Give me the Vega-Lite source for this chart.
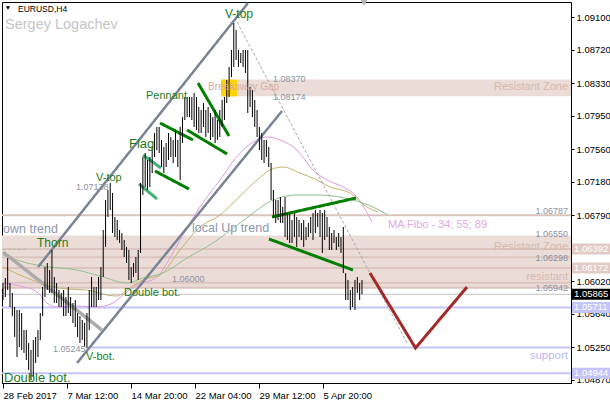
{
"$schema": "https://vega.github.io/schema/vega-lite/v6.json",
"width": 569, "height": 381,
"autosize": {"type": "none"},
"padding": {"left": 2, "top": 2, "right": 39, "bottom": 17},
"background": "#ffffff",
"config": {"view": {"stroke": "#000000", "strokeWidth": 1}, "font": "Liberation Sans"},
"datasets": {
"bars": [
{"i":0,"p":1.05997,"p2":1.05798},{"i":1,"p":1.06055,"p2":1.05833},{"i":2,"p":1.06288,"p2":1.05915},{"i":3,"p":1.05997,"p2":1.05717},{"i":4,"p":1.0588,"p2":1.0561},{"i":5,"p":1.05717,"p2":1.05367},{"i":6,"p":1.05682,"p2":1.05133},{"i":7,"p":1.05682,"p2":1.0525},{"i":8,"p":1.05647,"p2":1.05215},{"i":9,"p":1.05448,"p2":1.0518},
{"i":10,"p":1.05448,"p2":1.05098},{"i":11,"p":1.05297,"p2":1.04982},{"i":12,"p":1.05215,"p2":1.04865},{"i":13,"p":1.05332,"p2":1.049},{"i":14,"p":1.05367,"p2":1.05063},{"i":15,"p":1.05448,"p2":1.05133},{"i":16,"p":1.05647,"p2":1.05332},{"i":17,"p":1.0595,"p2":1.0561},{"i":18,"p":1.06183,"p2":1.05833},{"i":19,"p":1.0623,"p2":1.05915},
{"i":20,"p":1.06148,"p2":1.0588},{"i":21,"p":1.06382,"p2":1.0588},{"i":22,"p":1.06067,"p2":1.05763},{"i":23,"p":1.05997,"p2":1.05763},{"i":24,"p":1.05915,"p2":1.05717},{"i":25,"p":1.0588,"p2":1.05717},{"i":26,"p":1.05915,"p2":1.0561},{"i":27,"p":1.05833,"p2":1.0561},{"i":28,"p":1.0595,"p2":1.05647},{"i":29,"p":1.05833,"p2":1.0561},
{"i":30,"p":1.05763,"p2":1.0553},{"i":31,"p":1.05798,"p2":1.05483},{"i":32,"p":1.05647,"p2":1.05367},{"i":33,"p":1.0561,"p2":1.05297},{"i":34,"p":1.05565,"p2":1.05332},{"i":35,"p":1.0553,"p2":1.0525},{"i":36,"p":1.05647,"p2":1.05238},{"i":37,"p":1.05915,"p2":1.05448},{"i":38,"p":1.06067,"p2":1.05717},{"i":39,"p":1.0595,"p2":1.05717},
{"i":40,"p":1.0595,"p2":1.05717},{"i":41,"p":1.06067,"p2":1.05798},{"i":42,"p":1.06183,"p2":1.05798},{"i":43,"p":1.06615,"p2":1.06067},{"i":44,"p":1.06965,"p2":1.06417},{"i":45,"p":1.07082,"p2":1.06767},{"i":46,"p":1.07163,"p2":1.06848},{"i":47,"p":1.07047,"p2":1.0658},{"i":48,"p":1.06767,"p2":1.06533},{"i":49,"p":1.06732,"p2":1.06498},
{"i":50,"p":1.06615,"p2":1.06463},{"i":51,"p":1.0658,"p2":1.06382},{"i":52,"p":1.06498,"p2":1.063},{"i":53,"p":1.06417,"p2":1.0623},{"i":54,"p":1.06382,"p2":1.06032},{"i":55,"p":1.06183,"p2":1.05997},{"i":56,"p":1.0623,"p2":1.06067},{"i":57,"p":1.063,"p2":1.06113},{"i":58,"p":1.06382,"p2":1.06032},{"i":59,"p":1.07163,"p2":1.06347},
{"i":60,"p":1.07467,"p2":1.07023},{"i":61,"p":1.07513,"p2":1.07117},{"i":62,"p":1.07432,"p2":1.07082},{"i":63,"p":1.07467,"p2":1.07117},{"i":64,"p":1.07583,"p2":1.0728},{"i":65,"p":1.07747,"p2":1.07467},{"i":66,"p":1.07817,"p2":1.07548},{"i":67,"p":1.07817,"p2":1.07513},{"i":68,"p":1.07665,"p2":1.0735},{"i":69,"p":1.07583,"p2":1.0728},
{"i":70,"p":1.0763,"p2":1.0735},{"i":71,"p":1.07747,"p2":1.07432},{"i":72,"p":1.077,"p2":1.07467},{"i":73,"p":1.07665,"p2":1.07397},{"i":74,"p":1.07782,"p2":1.07467},{"i":75,"p":1.07665,"p2":1.0735},{"i":76,"p":1.07817,"p2":1.07198},{"i":77,"p":1.07933,"p2":1.0763},{"i":78,"p":1.08167,"p2":1.07898},{"i":79,"p":1.08167,"p2":1.07933},
{"i":80,"p":1.08167,"p2":1.07933},{"i":81,"p":1.08167,"p2":1.07898},{"i":82,"p":1.08213,"p2":1.07817},{"i":83,"p":1.08167,"p2":1.07782},{"i":84,"p":1.0805,"p2":1.07747},{"i":85,"p":1.08015,"p2":1.07747},{"i":86,"p":1.08097,"p2":1.07817},{"i":87,"p":1.08015,"p2":1.077},{"i":88,"p":1.0805,"p2":1.07747},{"i":89,"p":1.0798,"p2":1.07665},
{"i":90,"p":1.07933,"p2":1.077},{"i":91,"p":1.08015,"p2":1.0763},{"i":92,"p":1.07898,"p2":1.07665},{"i":93,"p":1.08015,"p2":1.077},{"i":94,"p":1.08132,"p2":1.07817},{"i":95,"p":1.08167,"p2":1.07898},{"i":96,"p":1.08365,"p2":1.08097},{"i":97,"p":1.08517,"p2":1.08167},{"i":98,"p":1.08715,"p2":1.084},{"i":99,"p":1.0903,"p2":1.08517},
{"i":100,"p":1.08948,"p2":1.08598},{"i":101,"p":1.08715,"p2":1.08517},{"i":102,"p":1.0868,"p2":1.08563},{"i":103,"p":1.08715,"p2":1.08517},{"i":104,"p":1.08715,"p2":1.08447},{"i":105,"p":1.08715,"p2":1.0798},{"i":106,"p":1.08283,"p2":1.0805},{"i":107,"p":1.08248,"p2":1.07933},{"i":108,"p":1.08132,"p2":1.07817},{"i":109,"p":1.08015,"p2":1.077},
{"i":110,"p":1.07817,"p2":1.07548},{"i":111,"p":1.07747,"p2":1.07432},{"i":112,"p":1.07665,"p2":1.07397},{"i":113,"p":1.07665,"p2":1.07467},{"i":114,"p":1.07583,"p2":1.0735},{"i":115,"p":1.07397,"p2":1.06965},{"i":116,"p":1.07082,"p2":1.06755},{"i":117,"p":1.06965,"p2":1.06697},{"i":118,"p":1.06965,"p2":1.06732},{"i":119,"p":1.07,"p2":1.06697},
{"i":120,"p":1.06883,"p2":1.06697},{"i":121,"p":1.07,"p2":1.06533},{"i":122,"p":1.06813,"p2":1.06498},{"i":123,"p":1.06813,"p2":1.06463},{"i":124,"p":1.06732,"p2":1.06463},{"i":125,"p":1.06813,"p2":1.06533},{"i":126,"p":1.06767,"p2":1.06417},{"i":127,"p":1.06732,"p2":1.06533},{"i":128,"p":1.06697,"p2":1.06498},{"i":129,"p":1.06732,"p2":1.06417},
{"i":130,"p":1.0665,"p2":1.06498},{"i":131,"p":1.06697,"p2":1.06533},{"i":132,"p":1.06767,"p2":1.0658},{"i":133,"p":1.06813,"p2":1.06498},{"i":134,"p":1.06848,"p2":1.0658},{"i":135,"p":1.06813,"p2":1.0665},{"i":136,"p":1.06848,"p2":1.06533},{"i":137,"p":1.06813,"p2":1.06347},{"i":138,"p":1.06848,"p2":1.06498},{"i":139,"p":1.06767,"p2":1.06533},
{"i":140,"p":1.0665,"p2":1.06382},{"i":141,"p":1.0658,"p2":1.06382},{"i":142,"p":1.06615,"p2":1.06463},{"i":143,"p":1.06533,"p2":1.06382},{"i":144,"p":1.0658,"p2":1.06417},{"i":145,"p":1.06533,"p2":1.06347},{"i":146,"p":1.0665,"p2":1.06113},{"i":147,"p":1.06113,"p2":1.05798},{"i":148,"p":1.06032,"p2":1.05798},{"i":149,"p":1.05915,"p2":1.05682},
{"i":150,"p":1.0595,"p2":1.05717},{"i":151,"p":1.06032,"p2":1.05682},{"i":152,"p":1.06067,"p2":1.0588},{"i":153,"p":1.05997,"p2":1.05798},{"i":154,"p":1.06032,"p2":1.05865}
],
"ma": [
{"ma":"34","i":0,"p":1.05997},{"ma":"34","i":7.29,"p":1.05962},{"ma":"34","i":14.59,"p":1.05892},{"ma":"34","i":18.88,"p":1.05763},{"ma":"34","i":23.17,"p":1.05717},{"ma":"34","i":31.75,"p":1.05728},{"ma":"34","i":40.33,"p":1.05717},{"ma":"34","i":47.19,"p":1.05763},{"ma":"34","i":51.48,"p":1.05857},{"ma":"34","i":57.49,"p":1.05973},{"ma":"34","i":66.07,"p":1.06067},{"ma":"34","i":70.36,"p":1.0623},{"ma":"34","i":75.93,"p":1.06498},{"ma":"34","i":84.51,"p":1.06883},{"ma":"34","i":93.09,"p":1.07198},{"ma":"34","i":101.67,"p":1.07513},{"ma":"34","i":108.97,"p":1.07665},{"ma":"34","i":113.26,"p":1.077},{"ma":"34","i":118.83,"p":1.07665},{"ma":"34","i":126.13,"p":1.07548},{"ma":"34","i":132.99,"p":1.07315},{"ma":"34","i":139.0,"p":1.07198},{"ma":"34","i":145.86,"p":1.07117},{"ma":"34","i":151.87,"p":1.07},{"ma":"34","i":158.3,"p":1.06708},
{"ma":"55","i":0,"p":1.06183},{"ma":"55","i":7.29,"p":1.0609},{"ma":"55","i":20.16,"p":1.05962},{"ma":"55","i":27.46,"p":1.05927},{"ma":"55","i":36.04,"p":1.05915},{"ma":"55","i":44.62,"p":1.05857},{"ma":"55","i":48.91,"p":1.05845},{"ma":"55","i":53.2,"p":1.05915},{"ma":"55","i":60.06,"p":1.06032},{"ma":"55","i":67.35,"p":1.0609},{"ma":"55","i":75.93,"p":1.06382},{"ma":"55","i":84.51,"p":1.0665},{"ma":"55","i":93.09,"p":1.0679},{"ma":"55","i":98.67,"p":1.0693},{"ma":"55","i":108.97,"p":1.07198},{"ma":"55","i":114.54,"p":1.07315},{"ma":"55","i":120.12,"p":1.0735},{"ma":"55","i":127.41,"p":1.0728},{"ma":"55","i":134.71,"p":1.07198},{"ma":"55","i":140.28,"p":1.07117},{"ma":"55","i":148.86,"p":1.07047},{"ma":"55","i":156.16,"p":1.06883},{"ma":"55","i":160.88,"p":1.06825},
{"ma":"89","i":0,"p":1.06323},{"ma":"89","i":10.3,"p":1.0623},{"ma":"89","i":20.16,"p":1.06183},{"ma":"89","i":31.75,"p":1.06148},{"ma":"89","i":41.61,"p":1.06078},{"ma":"89","i":53.2,"p":1.05997},{"ma":"89","i":60.06,"p":1.06055},{"ma":"89","i":68.64,"p":1.06113},{"ma":"89","i":78.94,"p":1.06288},{"ma":"89","i":90.09,"p":1.06463},{"ma":"89","i":101.67,"p":1.06697},{"ma":"89","i":107.25,"p":1.06813},{"ma":"89","i":115.83,"p":1.06965},{"ma":"89","i":126.13,"p":1.07023},{"ma":"89","i":135.99,"p":1.07023},{"ma":"89","i":150.15,"p":1.06965},{"ma":"89","i":158.73,"p":1.06883},{"ma":"89","i":165.16,"p":1.0679}
],
"segs": [
{"id":"up1","kind":"channel","i":15.02,"p":1.06183},{"id":"up1","kind":"channel","i":105.1,"p":1.09263},
{"id":"up2","kind":"channel","i":31.75,"p":1.05063},{"id":"up2","kind":"channel","i":119.69,"p":1.08003},
{"id":"dn","kind":"downtrend","i":0,"p":1.06358},{"id":"dn","kind":"downtrend","i":42.47,"p":1.05448},
{"id":"gd","kind":"guide","i":100.39,"p":1.09042},{"id":"gd","kind":"guide","i":173.32,"p":1.05297},
{"id":"f1","kind":"flaglight","i":60.06,"p":1.0749},{"id":"f1","kind":"flaglight","i":67.78,"p":1.07338},
{"id":"f2","kind":"flaglight","i":58.34,"p":1.07152},{"id":"f2","kind":"flaglight","i":66.07,"p":1.06977},
{"id":"f3","kind":"green","i":67.35,"p":1.07863},{"id":"f3","kind":"green","i":81.51,"p":1.07665},
{"id":"f4","kind":"green","i":65.21,"p":1.07303},{"id":"f4","kind":"green","i":79.79,"p":1.07093},
{"id":"p1","kind":"green","i":78.94,"p":1.07782},{"id":"p1","kind":"green","i":96.1,"p":1.07502},
{"id":"p2","kind":"green","i":83.66,"p":1.0833},{"id":"p2","kind":"green","i":96.95,"p":1.07712},
{"id":"c1","kind":"green","i":115.4,"p":1.06767},{"id":"c1","kind":"green","i":151.44,"p":1.06988},
{"id":"c2","kind":"green","i":114.11,"p":1.0651},{"id":"c2","kind":"green","i":150.15,"p":1.06148},
{"id":"fc","kind":"forecast","i":157.44,"p":1.06113},{"id":"fc","kind":"forecast","i":176.96,"p":1.05238},{"id":"fc","kind":"forecast","i":199.06,"p":1.0595}
],
"levels": [
{"kind":"zone","i":-0.43,"i2":243.67,"p":1.06787},
{"kind":"zone","i":-0.43,"i2":243.67,"p":1.06392},
{"kind":"zone","i":-0.43,"i2":243.67,"p":1.06298},
{"kind":"zone","i":-0.43,"i2":243.67,"p":1.06172},
{"kind":"zone","i":-0.43,"i2":243.67,"p":1.06},
{"kind":"zone","i":-0.43,"i2":243.67,"p":1.05942},
{"kind":"blue","i":-0.43,"i2":243.67,"p":1.05711},
{"kind":"blue","i":36.46,"i2":243.67,"p":1.05245},
{"kind":"blue","i":-0.43,"i2":243.67,"p":1.04944},
{"kind":"bid","i":-0.43,"i2":243.67,"p":1.05865},
{"kind":"dash","i":0,"i2":10.3,"p":1.0639}
],
"zones": [
{"kind":"zone","i":93.52,"i2":243.67,"p":1.0837,"p2":1.08174},
{"kind":"zone","i":-0.43,"i2":243.67,"p":1.0655,"p2":1.05942},
{"kind":"gap","i":93.52,"i2":100.39,"p":1.0837,"p2":1.08174}
],
"notes": [
{"text":"V-top","kind":"pat12","i":95.24,"p":1.09135},
{"text":"Pennant","kind":"pat11","i":61.35,"p":1.08178},
{"text":"Flag","kind":"pat13","i":54.05,"p":1.07618},
{"text":"V-top","kind":"pat11","i":39.9,"p":1.07222},
{"text":"Thorn","kind":"pat12","i":14.59,"p":1.06463},
{"text":"Double bot.","kind":"pat11","i":51.91,"p":1.0588},
{"text":"V-bot.","kind":"pat11","i":35.61,"p":1.05133},
{"text":"Double bot.","kind":"pat13","i":0.43,"p":1.04888},
{"text":"own trend","kind":"trend","i":0,"p":1.06627},
{"text":"local Up trend","kind":"trend","i":81.08,"p":1.06638},
{"text":"1.07138","kind":"price","i":31.32,"p":1.07117},
{"text":"1.06000","kind":"price","i":72.5,"p":1.06043},
{"text":"1.05245","kind":"price","i":21.45,"p":1.05227},
{"text":"1.08370","kind":"price","i":115.83,"p":1.08377},
{"text":"1.08174","kind":"price","i":115.83,"p":1.08167},
{"text":"Breakaway Gap","kind":"gap","i":87.95,"p":1.08283},
{"text":"MA Fibo - 34; 55; 89","kind":"ma","i":165.17,"p":1.06673},
{"text":"EURUSD,H4","kind":"title","i":6.43,"p":1.09193},
{"text":"Sergey Logachev","kind":"author","i":0.86,"p":1.09007}
],
"rnotes": [
{"text":"1.06787","kind":"price","i":242.39,"p":1.06837},
{"text":"1.06550","kind":"price","i":242.39,"p":1.06568},
{"text":"1.06298","kind":"price","i":242.39,"p":1.06288},
{"text":"1.05942","kind":"price","i":242.39,"p":1.05938},
{"text":"Resistant Zone","kind":"zone","i":242.39,"p":1.08283},
{"text":"Resistant Zone","kind":"zone","i":242.39,"p":1.06417},
{"text":"resistant","kind":"zone","i":242.39,"p":1.06067},
{"text":"support","kind":"support","i":242.39,"p":1.05145}
],
"tags": [
{"text":"1.06392","kind":"zone","i":244.1,"i2":260.5,"p":1.06392},
{"text":"1.06172","kind":"zone","i":244.1,"i2":260.5,"p":1.06172},
{"text":"1.05865","kind":"bid","i":244.1,"i2":260.5,"p":1.05865},
{"text":"1.05711","kind":"blue","i":244.1,"i2":260.5,"p":1.05711},
{"text":"1.04944","kind":"blue","i":244.1,"i2":260.5,"p":1.04944}
],
"marks": [
{"kind":"menu","i":2.14,"p":1.09205},
{"kind":"shift","i":154.87,"p":1.09263}
]
},
"encoding": {
"x": {"field":"i","type":"quantitative","scale":{"domain":[-0.429,243.67],"nice":false,"zero":false},
 "axis":{"values":[0,27.456,54.912,82.368,109.824,137.28],"labelExpr":"datum.value < 1 ? '28 Feb 2017' : datum.value < 30 ? '7 Mar 12:00' : datum.value < 60 ? '14 Mar 20:00' : datum.value < 90 ? '22 Mar 04:00' : datum.value < 120 ? '29 Mar 12:00' : '5 Apr 20:00'","labelAlign":"left","labelBaseline":"top","labelPadding":2,"tickSize":5,"tickColor":"#000000","domainColor":"#000000","labelColor":"#000000","labelFontSize":9.5,"labelFont":"Liberation Sans","title":null,"grid":false,"labelFlush":false,"labelOverlap":false,"labelBound":false}},
"y": {"field":"p","type":"quantitative","scale":{"domain":[1.0483,1.09275],"nice":false,"zero":false},
 "axis":{"orient":"right","values":[1.091,1.0872,1.0833,1.0795,1.0756,1.0718,1.0679,1.0602,1.0564,1.0525,1.0487],"format":".5f","tickSize":3,"labelPadding":2,"labelFontSize":9.5,"labelFont":"Liberation Sans","labelColor":"#000000","tickColor":"#000000","domainColor":"#000000","title":null,"grid":false,"labelFlush":false,"labelOverlap":false}}
},
"layer": [
{"data":{"name":"zones"},"mark":{"type":"rect"},
 "encoding":{"x2":{"field":"i2"},"y2":{"field":"p2"},
  "color":{"condition":{"test":"datum.kind === 'gap'","value":"#ffd200"},"value":"#ecdcd8"}}},
{"data":{"name":"levels"},"mark":{"type":"rule","strokeCap":"butt"},
 "encoding":{"x2":{"field":"i2"},
  "color":{"condition":[{"test":"datum.kind === 'blue'","value":"#c4c4f8"},{"test":"datum.kind === 'bid'","value":"#c0c0c0"},{"test":"datum.kind === 'dash'","value":"#b4b4b4"}],"value":"#dcc4be"},
  "strokeWidth":{"condition":[{"test":"datum.kind === 'bid'","value":1},{"test":"datum.kind === 'dash'","value":1}],"value":2},
  "strokeDash":{"condition":{"test":"datum.kind === 'dash'","value":[3,2]},"value":[1,0]}}},
{"data":{"name":"ma"},"mark":{"type":"line","interpolate":"monotone","strokeWidth":1},
 "encoding":{"detail":{"field":"ma"},
  "color":{"condition":[{"test":"datum.ma === '34'","value":"#e09ce0"},{"test":"datum.ma === '55'","value":"#c2b46a"}],"value":"#90c090"}}},
{"data":{"name":"segs"},"mark":{"type":"line","strokeCap":"butt"},
 "encoding":{"detail":{"field":"id"},"order":{"field":"i"},
  "color":{"condition":[{"test":"datum.kind === 'channel'","value":"#7a8494"},{"test":"datum.kind === 'downtrend'","value":"#ababab"},{"test":"datum.kind === 'guide'","value":"#a8a8a8"},{"test":"datum.kind === 'flaglight'","value":"#3cb371"},{"test":"datum.kind === 'forecast'","value":"#a32a2a"}],"value":"#008000"},
  "strokeWidth":{"condition":[{"test":"datum.kind === 'guide'","value":1},{"test":"datum.kind === 'downtrend'","value":3.5},{"test":"datum.kind === 'channel'","value":2.5}],"value":3},
  "strokeDash":{"condition":{"test":"datum.kind === 'guide'","value":[3,2]},"value":[1,0]}}},
{"data":{"name":"bars"},"mark":{"type":"rule","color":"#000000","strokeWidth":1},
 "encoding":{"y2":{"field":"p2"}}},
{"data":{"name":"notes"},"mark":{"type":"text","align":"left","baseline":"middle","font":"Liberation Sans"},
 "encoding":{"text":{"field":"text"},
  "color":{"condition":[{"test":"indexof(datum.kind,'pat') === 0","value":"#1c7c1c"},{"test":"datum.kind === 'trend'","value":"#8c96ae"},{"test":"datum.kind === 'price'","value":"#8c94a4"},{"test":"datum.kind === 'gap'","value":"#d4ada4"},{"test":"datum.kind === 'ma'","value":"#e4a8e4"},{"test":"datum.kind === 'title'","value":"#000000"}],"value":"#c6c6c6"},
  "size":{"condition":[{"test":"datum.kind === 'pat13'","value":13},{"test":"datum.kind === 'pat12'","value":12},{"test":"datum.kind === 'pat11'","value":11},{"test":"datum.kind === 'trend'","value":12.5},{"test":"datum.kind === 'price'","value":9},{"test":"datum.kind === 'gap'","value":10},{"test":"datum.kind === 'ma'","value":11},{"test":"datum.kind === 'title'","value":8.5}],"value":14.5}}},
{"data":{"name":"rnotes"},"mark":{"type":"text","align":"right","baseline":"middle","font":"Liberation Sans"},
 "encoding":{"text":{"field":"text"},
  "color":{"condition":[{"test":"datum.kind === 'price'","value":"#8c94a4"},{"test":"datum.kind === 'zone'","value":"#d4b8ac"}],"value":"#babaf2"},
  "size":{"condition":[{"test":"datum.kind === 'price'","value":9},{"test":"datum.kind === 'zone'","value":11}],"value":11.5}}},
{"data":{"name":"marks"},"mark":{"type":"point","shape":"triangle-down","filled":true,"opacity":1},
 "encoding":{"color":{"condition":{"test":"datum.kind === 'menu'","value":"#000000"},"value":"#b4b4b4"},
  "size":{"condition":{"test":"datum.kind === 'menu'","value":18},"value":45}}},
{"data":{"name":"tags"},"mark":{"type":"rule","strokeWidth":11,"strokeCap":"butt"},
 "encoding":{"x2":{"field":"i2"},
  "color":{"condition":[{"test":"datum.kind === 'bid'","value":"#000000"},{"test":"datum.kind === 'blue'","value":"#c4c4f8"}],"value":"#e2cbc4"}}},
{"data":{"name":"tags"},"mark":{"type":"text","align":"left","baseline":"middle","font":"Liberation Sans","fontSize":9.5,"color":"#ffffff","dx":2},
 "encoding":{"text":{"field":"text"}}}
]
}
